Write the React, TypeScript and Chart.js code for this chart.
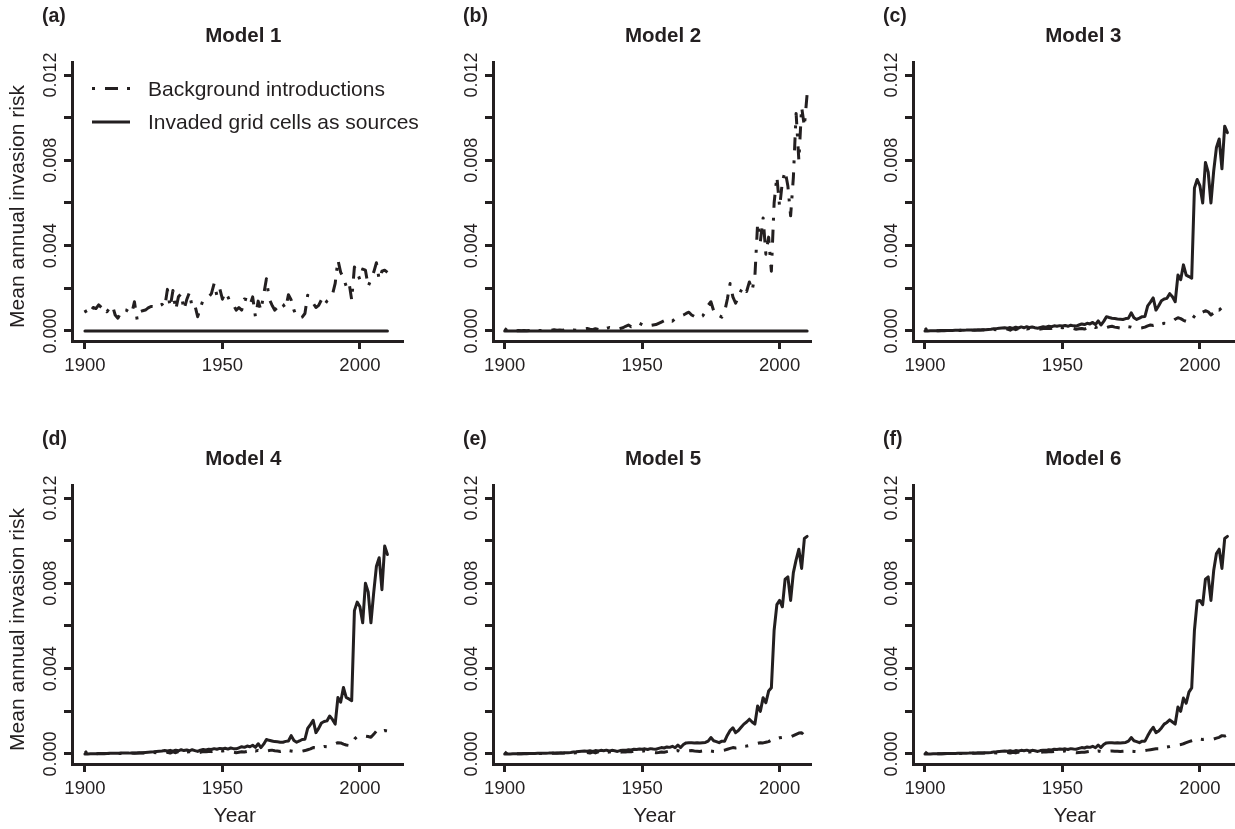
import React, { useEffect, useRef } from 'react';
import { Chart, registerables } from 'chart.js';

Chart.register(...registerables);

const INK = '#231f20';
const FONT = '"Liberation Sans", Arial, Helvetica, sans-serif';

// ---------- axes / text ----------
const START_YEAR = 1900;
const X_TICKS = [1900, 1950, 2000];
const Y_TICKS = [0, 0.002, 0.004, 0.006, 0.008, 0.01, 0.012];
const Y_TICK_LABELS = ['0.000', '', '0.004', '', '0.008', '', '0.012'];
const PANEL_LETTERS = ['(a)', '(b)', '(c)', '(d)', '(e)', '(f)'];
const PANEL_TITLES = ['Model 1', 'Model 2', 'Model 3', 'Model 4', 'Model 5', 'Model 6'];
const LEGEND_LABELS = ['Background introductions', 'Invaded grid cells as sources'];
const Y_LABEL = 'Mean annual invasion risk';
const X_LABEL = 'Year';

// ---------- data: one value per year, 1900..2010 ----------
const NO_SOURCE_RISK = [
  0, 0, 0, 0, 0, 0, 0, 0, 0, 0,
  0, 0, 0, 0, 0, 0, 0, 0, 0, 0,
  0, 0, 0, 0, 0, 0, 0, 0, 0, 0,
  0, 0, 0, 0, 0, 0, 0, 0, 0, 0,
  0, 0, 0, 0, 0, 0, 0, 0, 0, 0,
  0, 0, 0, 0, 0, 0, 0, 0, 0, 0,
  0, 0, 0, 0, 0, 0, 0, 0, 0, 0,
  0, 0, 0, 0, 0, 0, 0, 0, 0, 0,
  0, 0, 0, 0, 0, 0, 0, 0, 0, 0,
  0, 0, 0, 0, 0, 0, 0, 0, 0, 0,
  0, 0, 0, 0, 0, 0, 0, 0, 0, 0,
  0,
];

const M1_BG = [
  0.00098, 0.00075, 0.00090, 0.00110, 0.00105, 0.00122, 0.00110, 0.00115, 0.00090, 0.00108,
  0.00120, 0.00075, 0.00060, 0.00085, 0.00100, 0.00098, 0.00090, 0.00080, 0.00137, 0.00052,
  0.00090, 0.00095, 0.00098, 0.00108, 0.00115, 0.00114, 0.00110, 0.00120, 0.00125, 0.00110,
  0.00195, 0.00110, 0.00190, 0.00098, 0.00160, 0.00175, 0.00098, 0.00146, 0.00180, 0.00110,
  0.00120, 0.00067, 0.00110, 0.00146, 0.00150, 0.00160, 0.00175, 0.00223, 0.00165, 0.00200,
  0.00149, 0.00180, 0.00160, 0.00130, 0.00122, 0.00098, 0.00110, 0.00098, 0.00150, 0.00146,
  0.00120, 0.00160, 0.00067, 0.00140, 0.00098, 0.00170, 0.00245, 0.00150, 0.00122, 0.00098,
  0.00110, 0.00130, 0.00125, 0.00105, 0.00170, 0.00145, 0.00098, 0.00067, 0.00060, 0.00065,
  0.00082, 0.00168, 0.00150, 0.00130, 0.00110, 0.00120, 0.00146, 0.00122, 0.00140, 0.00150,
  0.00170, 0.00223, 0.00333, 0.00275, 0.00250, 0.00210, 0.00230, 0.00146, 0.00300, 0.00275,
  0.00240, 0.00290, 0.00285, 0.00210, 0.00240, 0.00275, 0.00320, 0.00240, 0.00280, 0.00285,
  0.00275,
];

const M2_BG = [
  0.00012, 0.00000, 0.00001, 0.00000, 0.00001, 0.00002, 0.00001, 0.00002, 0.00001, 0.00002,
  0.00002, 0.00001, 0.00003, 0.00002, 0.00003, 0.00004, 0.00005, 0.00003, 0.00006, 0.00004,
  0.00005, 0.00003, 0.00006, 0.00008, 0.00004, 0.00005, 0.00003, 0.00007, 0.00009, 0.00010,
  0.00012, 0.00008, 0.00006, 0.00011, 0.00007, 0.00004, 0.00010, 0.00012, 0.00016, 0.00013,
  0.00010, 0.00008, 0.00012, 0.00015, 0.00022, 0.00028, 0.00020, 0.00024, 0.00030, 0.00036,
  0.00030, 0.00024, 0.00020, 0.00026, 0.00028, 0.00030, 0.00036, 0.00042, 0.00048, 0.00045,
  0.00052, 0.00046, 0.00058, 0.00064, 0.00070, 0.00075, 0.00082, 0.00088, 0.00075, 0.00068,
  0.00060, 0.00065, 0.00070, 0.00090, 0.00120, 0.00137, 0.00095, 0.00075, 0.00072, 0.00065,
  0.00090, 0.00150, 0.00223, 0.00160, 0.00130, 0.00160, 0.00190, 0.00210, 0.00185, 0.00230,
  0.00190, 0.00255, 0.00505, 0.00420, 0.00530, 0.00360, 0.00440, 0.00280, 0.00600, 0.00725,
  0.00580, 0.00700, 0.00750, 0.00680, 0.00540, 0.00720, 0.01020, 0.00800, 0.01050, 0.00960,
  0.01110,
];

const M3_BG = [
  0.00014, 0.00000, 0.00001, 0.00000, 0.00001, 0.00001, 0.00002, 0.00001, 0.00002, 0.00002,
  0.00002, 0.00001, 0.00002, 0.00003, 0.00002, 0.00003, 0.00003, 0.00004, 0.00003, 0.00004,
  0.00004, 0.00005, 0.00004, 0.00006, 0.00005, 0.00007, 0.00006, 0.00008, 0.00010, 0.00006,
  0.00009, 0.00004, 0.00011, 0.00006, 0.00012, 0.00008, 0.00013, 0.00009, 0.00011, 0.00014,
  0.00010, 0.00006, 0.00009, 0.00012, 0.00011, 0.00013, 0.00012, 0.00016, 0.00014, 0.00017,
  0.00015, 0.00018, 0.00016, 0.00014, 0.00012, 0.00008, 0.00010, 0.00012, 0.00009, 0.00014,
  0.00018, 0.00022, 0.00016, 0.00020, 0.00014, 0.00012, 0.00016, 0.00020, 0.00022, 0.00018,
  0.00016, 0.00014, 0.00018, 0.00022, 0.00020, 0.00018, 0.00014, 0.00012, 0.00013, 0.00015,
  0.00018, 0.00024, 0.00028, 0.00026, 0.00030, 0.00028, 0.00032, 0.00036, 0.00035, 0.00040,
  0.00045, 0.00055, 0.00062, 0.00058, 0.00050, 0.00045, 0.00042, 0.00052, 0.00070, 0.00086,
  0.00080, 0.00088, 0.00095, 0.00090, 0.00075, 0.00085, 0.00106, 0.00098, 0.00110, 0.00114,
  0.00106,
];

const M3_SRC = [
  0.00000, 0.00000, 0.00001, 0.00001, 0.00001, 0.00001, 0.00002, 0.00002, 0.00002, 0.00002,
  0.00002, 0.00003, 0.00003, 0.00003, 0.00003, 0.00004, 0.00004, 0.00004, 0.00005, 0.00005,
  0.00005, 0.00006, 0.00006, 0.00007, 0.00008, 0.00010, 0.00011, 0.00013, 0.00014, 0.00015,
  0.00013, 0.00016, 0.00012, 0.00018, 0.00014, 0.00019, 0.00015, 0.00020, 0.00016, 0.00019,
  0.00015, 0.00013, 0.00017, 0.00020, 0.00018, 0.00022, 0.00020, 0.00024, 0.00022, 0.00025,
  0.00023, 0.00026, 0.00022, 0.00027, 0.00024, 0.00023, 0.00028, 0.00033, 0.00030, 0.00036,
  0.00033, 0.00040, 0.00030, 0.00047, 0.00028, 0.00045, 0.00067, 0.00063, 0.00060, 0.00058,
  0.00056, 0.00055, 0.00054, 0.00058, 0.00060, 0.00085, 0.00062, 0.00054, 0.00060, 0.00067,
  0.00068, 0.00118, 0.00135, 0.00155, 0.00098, 0.00118, 0.00142, 0.00150, 0.00153, 0.00175,
  0.00160, 0.00137, 0.00262, 0.00240, 0.00310, 0.00262, 0.00255, 0.00247, 0.00670, 0.00710,
  0.00680, 0.00600, 0.00790, 0.00745, 0.00600, 0.00750, 0.00860, 0.00900, 0.00760, 0.00960,
  0.00930,
];

const M4_BG = [
  0.00014, 0.00000, 0.00001, 0.00000, 0.00001, 0.00001, 0.00002, 0.00001, 0.00002, 0.00002,
  0.00002, 0.00001, 0.00002, 0.00003, 0.00002, 0.00003, 0.00003, 0.00004, 0.00003, 0.00004,
  0.00004, 0.00005, 0.00004, 0.00006, 0.00005, 0.00007, 0.00006, 0.00008, 0.00009, 0.00005,
  0.00008, 0.00004, 0.00010, 0.00006, 0.00011, 0.00007, 0.00012, 0.00009, 0.00010, 0.00013,
  0.00009, 0.00005, 0.00008, 0.00011, 0.00010, 0.00012, 0.00011, 0.00015, 0.00013, 0.00016,
  0.00014, 0.00016, 0.00013, 0.00010, 0.00008, 0.00006, 0.00008, 0.00010, 0.00009, 0.00012,
  0.00016, 0.00019, 0.00014, 0.00017, 0.00012, 0.00010, 0.00013, 0.00016, 0.00018, 0.00015,
  0.00014, 0.00012, 0.00015, 0.00018, 0.00016, 0.00014, 0.00012, 0.00010, 0.00011, 0.00013,
  0.00016, 0.00020, 0.00024, 0.00030, 0.00028, 0.00030, 0.00032, 0.00035, 0.00034, 0.00036,
  0.00040, 0.00048, 0.00053, 0.00052, 0.00046, 0.00042, 0.00040, 0.00050, 0.00070, 0.00082,
  0.00078, 0.00080, 0.00084, 0.00082, 0.00078, 0.00092, 0.00108, 0.00100, 0.00106, 0.00110,
  0.00108,
];

const M4_SRC = [
  0.00000, 0.00000, 0.00001, 0.00001, 0.00001, 0.00002, 0.00002, 0.00002, 0.00002, 0.00003,
  0.00003, 0.00003, 0.00003, 0.00004, 0.00004, 0.00004, 0.00004, 0.00005, 0.00005, 0.00005,
  0.00006, 0.00006, 0.00007, 0.00008, 0.00009, 0.00010, 0.00012, 0.00013, 0.00014, 0.00016,
  0.00014, 0.00017, 0.00013, 0.00018, 0.00015, 0.00020, 0.00016, 0.00019, 0.00015, 0.00020,
  0.00016, 0.00012, 0.00018, 0.00021, 0.00019, 0.00022, 0.00021, 0.00025, 0.00022, 0.00026,
  0.00024, 0.00027, 0.00023, 0.00028, 0.00025, 0.00024, 0.00029, 0.00034, 0.00031, 0.00037,
  0.00034, 0.00041, 0.00031, 0.00048, 0.00030, 0.00046, 0.00068, 0.00064, 0.00061, 0.00058,
  0.00057, 0.00055, 0.00055, 0.00059, 0.00061, 0.00086, 0.00063, 0.00055, 0.00061, 0.00068,
  0.00069, 0.00120, 0.00138, 0.00158, 0.00100, 0.00120, 0.00145, 0.00152, 0.00155, 0.00178,
  0.00162, 0.00140, 0.00265, 0.00243, 0.00312, 0.00265, 0.00258, 0.00250, 0.00672, 0.00712,
  0.00690, 0.00615, 0.00800, 0.00760, 0.00615, 0.00755, 0.00880, 0.00920, 0.00770, 0.00975,
  0.00935,
];

const M5_BG = [
  0.00010, 0.00000, 0.00001, 0.00000, 0.00001, 0.00001, 0.00001, 0.00002, 0.00001, 0.00002,
  0.00002, 0.00001, 0.00002, 0.00002, 0.00003, 0.00002, 0.00003, 0.00003, 0.00004, 0.00003,
  0.00004, 0.00004, 0.00005, 0.00004, 0.00006, 0.00005, 0.00006, 0.00007, 0.00008, 0.00005,
  0.00007, 0.00004, 0.00009, 0.00005, 0.00010, 0.00007, 0.00011, 0.00008, 0.00009, 0.00012,
  0.00008, 0.00005, 0.00008, 0.00010, 0.00009, 0.00011, 0.00010, 0.00013, 0.00012, 0.00014,
  0.00013, 0.00015, 0.00012, 0.00010, 0.00008, 0.00006, 0.00007, 0.00009, 0.00008, 0.00011,
  0.00014, 0.00017, 0.00013, 0.00016, 0.00011, 0.00009, 0.00012, 0.00015, 0.00016, 0.00014,
  0.00013, 0.00012, 0.00014, 0.00016, 0.00015, 0.00014, 0.00012, 0.00011, 0.00013, 0.00016,
  0.00018, 0.00022, 0.00026, 0.00030, 0.00028, 0.00030, 0.00033, 0.00036, 0.00037, 0.00040,
  0.00043, 0.00047, 0.00050, 0.00053, 0.00052, 0.00055, 0.00058, 0.00065, 0.00070, 0.00072,
  0.00076, 0.00078, 0.00080, 0.00082, 0.00080, 0.00086, 0.00092, 0.00098, 0.00100, 0.00086,
  0.00092,
];

const M5_SRC = [
  0.00000, 0.00000, 0.00000, 0.00001, 0.00001, 0.00001, 0.00001, 0.00002, 0.00002, 0.00002,
  0.00002, 0.00002, 0.00003, 0.00003, 0.00003, 0.00003, 0.00004, 0.00004, 0.00004, 0.00005,
  0.00005, 0.00005, 0.00006, 0.00006, 0.00007, 0.00009, 0.00010, 0.00012, 0.00013, 0.00014,
  0.00013, 0.00015, 0.00012, 0.00016, 0.00014, 0.00017, 0.00015, 0.00018, 0.00014, 0.00017,
  0.00015, 0.00012, 0.00016, 0.00018, 0.00017, 0.00020, 0.00019, 0.00022, 0.00021, 0.00023,
  0.00022, 0.00024, 0.00021, 0.00025, 0.00023, 0.00022, 0.00026, 0.00030, 0.00028, 0.00033,
  0.00031, 0.00036, 0.00029, 0.00042, 0.00030, 0.00044, 0.00052, 0.00053, 0.00053, 0.00052,
  0.00053, 0.00052, 0.00053, 0.00054, 0.00060, 0.00077, 0.00062, 0.00058, 0.00053, 0.00060,
  0.00060, 0.00088, 0.00110, 0.00123, 0.00100, 0.00110, 0.00125, 0.00140, 0.00150, 0.00163,
  0.00150, 0.00140, 0.00225, 0.00200, 0.00264, 0.00240, 0.00295, 0.00310, 0.00580, 0.00700,
  0.00720, 0.00690, 0.00820, 0.00830, 0.00720, 0.00850, 0.00910, 0.00960, 0.00870, 0.01010,
  0.01020,
];

const M6_BG = [
  0.00010, 0.00000, 0.00001, 0.00000, 0.00001, 0.00001, 0.00001, 0.00001, 0.00002, 0.00002,
  0.00002, 0.00001, 0.00002, 0.00002, 0.00002, 0.00003, 0.00003, 0.00003, 0.00003, 0.00004,
  0.00004, 0.00004, 0.00004, 0.00005, 0.00005, 0.00006, 0.00005, 0.00007, 0.00008, 0.00005,
  0.00007, 0.00004, 0.00008, 0.00005, 0.00009, 0.00006, 0.00010, 0.00008, 0.00009, 0.00011,
  0.00008, 0.00005, 0.00007, 0.00009, 0.00009, 0.00010, 0.00010, 0.00012, 0.00011, 0.00013,
  0.00012, 0.00014, 0.00011, 0.00009, 0.00007, 0.00006, 0.00007, 0.00008, 0.00008, 0.00010,
  0.00012, 0.00014, 0.00012, 0.00014, 0.00011, 0.00010, 0.00011, 0.00013, 0.00014, 0.00013,
  0.00013, 0.00012, 0.00013, 0.00014, 0.00014, 0.00013, 0.00012, 0.00011, 0.00012, 0.00014,
  0.00016, 0.00018, 0.00020, 0.00022, 0.00024, 0.00024, 0.00026, 0.00030, 0.00033, 0.00035,
  0.00038, 0.00040, 0.00042, 0.00044, 0.00048, 0.00053, 0.00058, 0.00062, 0.00066, 0.00070,
  0.00070, 0.00068, 0.00070, 0.00071, 0.00070, 0.00070, 0.00074, 0.00078, 0.00086, 0.00084,
  0.00090,
];

const M6_SRC = [
  0.00000, 0.00000, 0.00000, 0.00001, 0.00001, 0.00001, 0.00001, 0.00002, 0.00002, 0.00002,
  0.00002, 0.00002, 0.00003, 0.00003, 0.00003, 0.00003, 0.00004, 0.00004, 0.00004, 0.00005,
  0.00005, 0.00005, 0.00006, 0.00006, 0.00007, 0.00009, 0.00010, 0.00012, 0.00013, 0.00014,
  0.00013, 0.00015, 0.00012, 0.00016, 0.00014, 0.00017, 0.00015, 0.00018, 0.00014, 0.00017,
  0.00015, 0.00012, 0.00016, 0.00018, 0.00017, 0.00020, 0.00019, 0.00022, 0.00021, 0.00023,
  0.00022, 0.00024, 0.00021, 0.00025, 0.00023, 0.00022, 0.00026, 0.00030, 0.00028, 0.00033,
  0.00031, 0.00036, 0.00029, 0.00042, 0.00030, 0.00044, 0.00052, 0.00053, 0.00053, 0.00052,
  0.00053, 0.00052, 0.00053, 0.00054, 0.00060, 0.00077, 0.00062, 0.00058, 0.00053, 0.00060,
  0.00060, 0.00085, 0.00108, 0.00125, 0.00100, 0.00108, 0.00122, 0.00140, 0.00148, 0.00160,
  0.00150, 0.00140, 0.00220, 0.00200, 0.00262, 0.00238, 0.00290, 0.00310, 0.00580, 0.00717,
  0.00720, 0.00700, 0.00820, 0.00830, 0.00720, 0.00860, 0.00940, 0.00960, 0.00870, 0.01010,
  0.01020,
];

const BACKGROUND = [M1_BG, M2_BG, M3_BG, M4_BG, M5_BG, M6_BG];
const SOURCES = [NO_SOURCE_RISK, NO_SOURCE_RISK, M3_SRC, M4_SRC, M5_SRC, M6_SRC];

// ---------- layout (pixels) ----------
const COL_LEFT = [0, 410, 820];
const COL_WIDTH = [425, 410, 415];
const ROW_TOP = [0, 422];
const ROW_HEIGHT = [422, 407];
const AREA_LEFT = [72, 83, 93];
const AREA_RIGHT = [402, 400, 415];
const AREA_TOP = [62, 63];
const AREA_BOTTOM = [341, 342];
const X_MIN = [1895.3, 1895.75, 1895.65];
const X_MAX = [2015.3, 2011.05, 2012.75];
const Y_MIN = -0.00047;
const Y_MAX = 0.01261;
const DOTDASH = [3, 10, 13, 9];

function makeTextPlugin(idx: number) {
  const col = idx % 3;
  const row = Math.floor(idx / 3);
  return {
    id: 'panelText' + idx,
    afterDraw(chart: any) {
      const { ctx, chartArea: ca, scales } = chart;
      const xs = scales.x;
      const ys = scales.y;
      ctx.save();
      ctx.fillStyle = INK;
      ctx.strokeStyle = INK;

      // x tick labels
      ctx.font = `18.5px ${FONT}`;
      ctx.textAlign = 'center';
      ctx.textBaseline = 'middle';
      X_TICKS.forEach((v) => {
        ctx.fillText(String(v), xs.getPixelForValue(v), ca.bottom + 25);
      });

      // y tick labels (rotated)
      ctx.font = `18px ${FONT}`;
      Y_TICKS.forEach((v, i) => {
        const lab = Y_TICK_LABELS[i];
        if (!lab) return;
        ctx.save();
        ctx.translate(ca.left - 21, ys.getPixelForValue(v));
        ctx.rotate(-Math.PI / 2);
        ctx.fillText(lab, 0, 0);
        ctx.restore();
      });

      // title
      ctx.font = `bold 20.5px ${FONT}`;
      ctx.fillText(PANEL_TITLES[idx], xs.getPixelForValue(1957.6), ca.top - 26);

      // panel letter
      ctx.font = `bold 19.5px ${FONT}`;
      ctx.textAlign = 'left';
      ctx.fillText(PANEL_LETTERS[idx], ca.left - 30, ca.top - 45);

      // y axis label
      if (col === 0) {
        ctx.font = `21px ${FONT}`;
        ctx.textAlign = 'center';
        ctx.save();
        ctx.translate(ca.left - 54, (ca.top + ca.bottom) / 2 + 5);
        ctx.rotate(-Math.PI / 2);
        ctx.fillText(Y_LABEL, 0, 0);
        ctx.restore();
      }

      // x axis label
      if (row === 1) {
        ctx.font = `21px ${FONT}`;
        ctx.textAlign = 'center';
        ctx.fillText(X_LABEL, xs.getPixelForValue(1954.5), ca.bottom + 52);
      }

      // legend
      if (idx === 0) {
        const x0 = ca.left + 20;
        const x1 = ca.left + 58;
        const y1 = ca.top + 26.5;
        const y2 = ca.top + 60;
        ctx.lineWidth = 3;
        ctx.lineCap = 'butt';
        ctx.setLineDash(DOTDASH);
        ctx.beginPath();
        ctx.moveTo(x0, y1);
        ctx.lineTo(x1, y1);
        ctx.stroke();
        ctx.setLineDash([]);
        ctx.beginPath();
        ctx.moveTo(x0, y2);
        ctx.lineTo(x1, y2);
        ctx.stroke();
        ctx.font = `21px ${FONT}`;
        ctx.textAlign = 'left';
        ctx.textBaseline = 'alphabetic';
        ctx.fillText(LEGEND_LABELS[0], ca.left + 76, ca.top + 34);
        ctx.fillText(LEGEND_LABELS[1], ca.left + 76, ca.top + 66.5);
      }
      ctx.restore();
    },
  };
}

function Panel({ idx }: { idx: number }) {
  const ref = useRef<HTMLCanvasElement>(null);
  const col = idx % 3;
  const row = Math.floor(idx / 3);
  const W = COL_WIDTH[col];
  const H = ROW_HEIGHT[row];

  useEffect(() => {
    if (!ref.current) return;
    const toPoints = (vals: number[]) => vals.map((v, i) => ({ x: START_YEAR + i, y: v }));
    const axisGrid = {
      display: true,
      drawOnChartArea: false,
      drawTicks: true,
      tickLength: 8,
      lineWidth: 3,
      color: INK,
    };
    const axisBorder = { display: true, color: INK, width: 3 };
    const chart = new Chart(ref.current, {
      type: 'line',
      data: {
        datasets: [
          {
            data: toPoints(BACKGROUND[idx]),
            borderColor: INK,
            borderWidth: 3,
            borderDash: DOTDASH,
            borderCapStyle: 'butt',
            borderJoinStyle: 'round',
            pointRadius: 0,
            tension: 0,
            fill: false,
          },
          {
            data: toPoints(SOURCES[idx]),
            borderColor: INK,
            borderWidth: 3,
            borderCapStyle: 'round',
            borderJoinStyle: 'round',
            pointRadius: 0,
            tension: 0,
            fill: false,
          },
        ],
      },
      options: {
        responsive: false,
        animation: false,
        devicePixelRatio: 1,
        events: [],
        layout: {
          padding: { top: AREA_TOP[row], right: W - AREA_RIGHT[col], bottom: 0, left: 0 },
        },
        plugins: {
          legend: { display: false },
          tooltip: { enabled: false },
          title: { display: false },
        },
        scales: {
          x: {
            type: 'linear',
            min: X_MIN[col],
            max: X_MAX[col],
            afterBuildTicks: (s: any) => {
              s.ticks = X_TICKS.map((v) => ({ value: v }));
            },
            afterFit: (s: any) => {
              s.height = H - AREA_BOTTOM[row];
            },
            ticks: { display: false },
            grid: axisGrid,
            border: axisBorder,
          },
          y: {
            type: 'linear',
            min: Y_MIN,
            max: Y_MAX,
            afterBuildTicks: (s: any) => {
              s.ticks = Y_TICKS.map((v) => ({ value: v }));
            },
            afterFit: (s: any) => {
              s.width = AREA_LEFT[col];
            },
            ticks: { display: false },
            grid: axisGrid,
            border: axisBorder,
          },
        },
      } as any,
      plugins: [makeTextPlugin(idx)],
    });
    return () => chart.destroy();
  }, [idx]);

  return (
    <canvas
      ref={ref}
      width={W}
      height={H}
      style={{ position: 'absolute', left: COL_LEFT[col], top: ROW_TOP[row], width: W, height: H }}
    />
  );
}

export default function App() {
  return (
    <div
      style={{
        position: 'absolute',
        left: 0,
        top: 0,
        width: 1235,
        height: 829,
        background: '#ffffff',
        overflow: 'hidden',
      }}
    >
      {[0, 1, 2, 3, 4, 5].map((i) => (
        <Panel key={i} idx={i} />
      ))}
    </div>
  );
}
